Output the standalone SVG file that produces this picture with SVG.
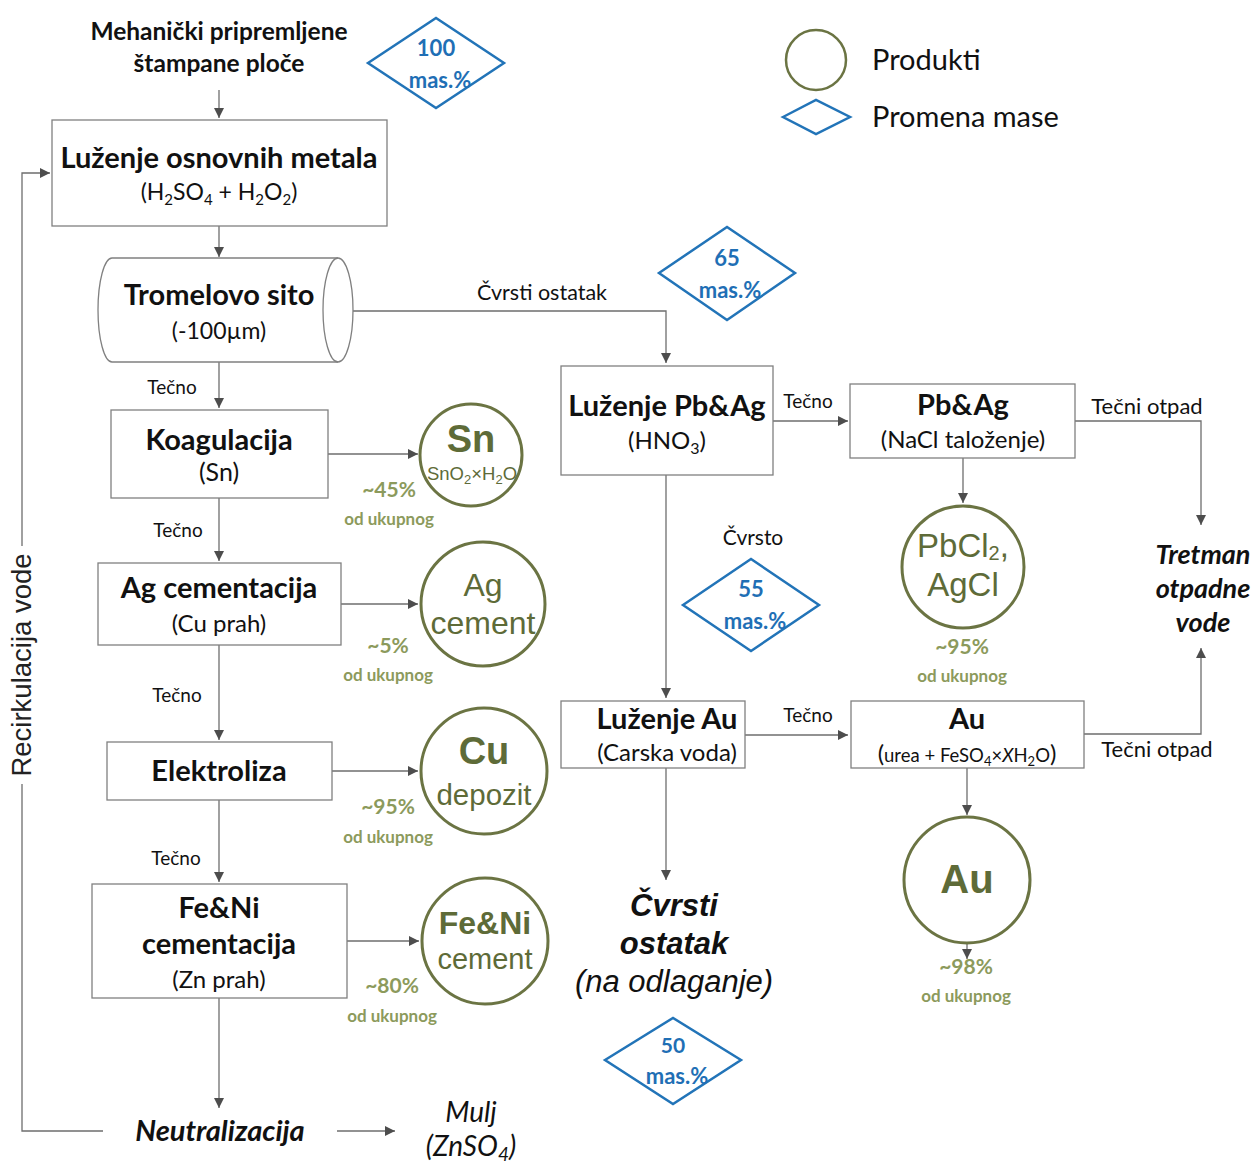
<svg xmlns="http://www.w3.org/2000/svg" width="1258" height="1163" viewBox="0 0 1258 1163">
<defs>
<marker id="ah" viewBox="0 0 10 10" refX="10" refY="5" markerWidth="10" markerHeight="10" markerUnits="userSpaceOnUse" orient="auto">
<path d="M0,0 L10,5 L0,10 Z" fill="#4d4d4d"/>
</marker>
<style>
.box{fill:#fff;stroke:#808080;stroke-width:1.3}
.ln{fill:none;stroke:#6e6e6e;stroke-width:1.3}
.arr{fill:none;stroke:#6e6e6e;stroke-width:1.3;marker-end:url(#ah)}
.prod{fill:#fff;stroke:#6b7443;stroke-width:3}
.dia{fill:#fff;stroke:#2274b8;stroke-width:2.5}
.t{font-family:Lato,"Open Sans",sans-serif;fill:#111;text-anchor:middle}
.b{font-weight:bold}
.h{font-size:29px;font-weight:bold}
.s{font-size:24px}
.lbl{font-family:Lato,"Open Sans",sans-serif;font-size:19px;fill:#111;text-anchor:middle}
.pt{font-family:"Liberation Sans",Arial,sans-serif;fill:#5e6b38;text-anchor:middle}
.pc{font-family:Lato,"Open Sans",sans-serif;font-weight:bold;fill:#8c9a5c;text-anchor:middle}
.pc1{font-size:21px}
.pc2{font-size:17px}
.dt{font-family:Lato,"Open Sans",sans-serif;font-weight:bold;fill:#1f6fb5;text-anchor:middle}
.it{font-family:"Liberation Sans",Arial,sans-serif;font-style:italic;fill:#111;text-anchor:middle;font-size:31px}
</style>
</defs>
<rect width="1258" height="1163" fill="#fff"/>

<g id="connectors">
<path class="arr" d="M219,90 V118"/>
<path class="arr" d="M219,226 V257"/>
<path class="arr" d="M353,311 H666 V363"/>
<path class="arr" d="M219,362 V408"/>
<path class="arr" d="M328,454 H418"/>
<path class="arr" d="M219,498 V561"/>
<path class="arr" d="M341,604 H418"/>
<path class="arr" d="M219,645 V740"/>
<path class="arr" d="M332,771 H418"/>
<path class="arr" d="M219,800 V882"/>
<path class="arr" d="M347,941 H419"/>
<path class="arr" d="M219,998 V1108"/>
<path class="ln" d="M103,1131 H22 V784"/>
<path class="arr" d="M22,546 V173 H50"/>
<path class="arr" d="M337,1131 H395"/>
<path class="arr" d="M773,421 H848"/>
<path class="arr" d="M1075,421 H1201 V525"/>
<path class="arr" d="M963,458 V503"/>
<path class="arr" d="M666,475 V698"/>
<path class="arr" d="M745,735 H848"/>
<path class="arr" d="M1084,734 H1201 V648"/>
<path class="arr" d="M967,768 V815"/>
<path class="arr" d="M967,943 V959"/>
<path class="arr" d="M666,768 V880"/>
</g>

<g id="edge-labels">
<text class="lbl" x="542" y="300" style="font-size:21.5px">Čvrsti ostatak</text>
<text class="lbl" x="172" y="394">Tečno</text>
<text class="lbl" x="178" y="537">Tečno</text>
<text class="lbl" x="177" y="702">Tečno</text>
<text class="lbl" x="176" y="865">Tečno</text>
<text class="lbl" x="808" y="408">Tečno</text>
<text class="lbl" x="808" y="722">Tečno</text>
<text class="lbl" x="1147" y="414" style="font-size:22px">Tečni otpad</text>
<text class="lbl" x="1157" y="757" style="font-size:22px">Tečni otpad</text>
<text class="lbl" x="753" y="545" style="font-size:21px">Čvrsto</text>
<text class="lbl" x="0" y="0" transform="translate(31,665) rotate(-90)" style="font-family:'Liberation Sans',Arial,sans-serif;font-size:27.5px;fill:#222">Recirkulacija vode</text>
</g>

<g id="input">
<text class="t b" x="219" y="40" style="font-size:24.5px">Mehanički pripremljene</text>
<text class="t b" x="219" y="72" style="font-size:24.5px">štampane ploče</text>
</g>

<g id="d100">
<polygon class="dia" points="368,63 436,18 504,63 436,108"/>
<text class="dt" x="436" y="56" style="font-size:22px">100</text>
<text class="dt" x="440" y="88" style="font-size:22px">mas.%</text>
</g>

<g id="legend">
<circle cx="816" cy="60" r="30" class="prod" style="stroke-width:2.5"/>
<text x="872" y="70" style="font-family:Lato,'Open Sans',sans-serif;font-size:29px;fill:#111">Produkti</text>
<polygon class="dia" points="783,117 816,100 850,117 816,134"/>
<text x="872" y="127" style="font-family:Lato,'Open Sans',sans-serif;font-size:29px;fill:#111">Promena mase</text>
</g>

<g id="n-luzenje-osnovnih">
<rect class="box" x="52" y="120" width="335" height="106"/>
<text class="t h" x="219" y="168">Luženje osnovnih metala</text>
<text class="t" x="219" y="200" style="font-size:23px">(H<tspan font-size="15" dy="5">2</tspan><tspan dy="-5">SO</tspan><tspan font-size="15" dy="5">4</tspan><tspan dy="-5"> + H</tspan><tspan font-size="15" dy="5">2</tspan><tspan dy="-5">O</tspan><tspan font-size="15" dy="5">2</tspan><tspan dy="-5">)</tspan></text>
</g>

<g id="n-tromel">
<path class="box" d="M112,258 H338 A15,52 0 0 1 338,362 H112 A14,52 0 0 1 112,258 Z"/>
<path class="ln" d="M338,258 A15,52 0 0 0 338,362" style="stroke:#808080"/>
<text class="t h" x="219" y="305">Tromelovo sito</text>
<text class="t" x="219" y="339" style="font-size:23px">(-100µm)</text>
</g>

<g id="d65">
<polygon class="dia" points="659,273 727,227 795,273 727,320"/>
<text class="dt" x="727" y="266" style="font-size:22px">65</text>
<text class="dt" x="730" y="298" style="font-size:22px">mas.%</text>
</g>

<g id="n-koagulacija">
<rect class="box" x="111" y="410" width="217" height="88"/>
<text class="t h" x="219" y="450">Koagulacija</text>
<text class="t" x="219" y="481" style="font-size:25px">(Sn)</text>
</g>
<g id="p-sn">
<circle class="prod" cx="471" cy="455" r="51"/>
<text class="pt b" x="471" y="452" style="font-size:38px">Sn</text>
<text class="pt" x="472" y="480" style="font-size:18.5px">SnO<tspan font-size="13" dy="4">2</tspan><tspan dy="-4">×H</tspan><tspan font-size="13" dy="4">2</tspan><tspan dy="-4">O</tspan></text>
<text class="pc pc1" x="389" y="497">~45%</text>
<text class="pc pc2" x="389" y="525">od ukupnog</text>
</g>

<g id="n-ag-cementacija">
<rect class="box" x="98" y="563" width="243" height="82"/>
<text class="t h" x="219" y="598">Ag cementacija</text>
<text class="t s" x="219" y="632">(Cu prah)</text>
</g>
<g id="p-ag">
<circle class="prod" cx="483" cy="604" r="62"/>
<text class="pt" x="483" y="596" style="font-size:32px">Ag</text>
<text class="pt" x="483" y="634" style="font-size:32px">cement</text>
<text class="pc pc1" x="388" y="653">~5%</text>
<text class="pc pc2" x="388" y="681">od ukupnog</text>
</g>

<g id="n-elektroliza">
<rect class="box" x="107" y="742" width="225" height="58"/>
<text class="t h" x="219" y="781">Elektroliza</text>
</g>
<g id="p-cu">
<circle class="prod" cx="484" cy="771" r="63"/>
<text class="pt b" x="484" y="764" style="font-size:38px">Cu</text>
<text class="pt" x="484" y="805" style="font-size:29.5px">depozit</text>
<text class="pc pc1" x="388" y="814">~95%</text>
<text class="pc pc2" x="388" y="843">od ukupnog</text>
</g>

<g id="n-feni-cementacija">
<rect class="box" x="92" y="884" width="255" height="114"/>
<text class="t h" x="219" y="918">Fe&amp;Ni</text>
<text class="t h" x="219" y="954">cementacija</text>
<text class="t s" x="219" y="988">(Zn prah)</text>
</g>
<g id="p-feni">
<circle class="prod" cx="485" cy="941" r="63"/>
<text class="pt b" x="485" y="934" style="font-size:32px">Fe&amp;Ni</text>
<text class="pt" x="485" y="969" style="font-size:29px">cement</text>
<text class="pc pc1" x="392" y="993">~80%</text>
<text class="pc pc2" x="392" y="1022">od ukupnog</text>
</g>

<g id="n-neutralizacija">
<text class="t b" x="220" y="1141" style="font-size:29px;font-style:italic">Neutralizacija</text>
</g>
<g id="n-mulj">
<text class="t" x="471" y="1122" style="font-size:28px;font-style:italic">Mulj</text>
<text class="t" x="471" y="1156" style="font-size:28px;font-style:italic">(ZnSO<tspan font-size="19" dy="5">4</tspan><tspan dy="-5">)</tspan></text>
</g>

<g id="n-luzenje-pbag">
<rect class="box" x="561" y="366" width="212" height="109"/>
<text class="t h" x="667" y="416">Luženje Pb&amp;Ag</text>
<text class="t s" x="667" y="449">(HNO<tspan font-size="16" dy="5">3</tspan><tspan dy="-5">)</tspan></text>
</g>

<g id="n-pbag-talozenje">
<rect class="box" x="850" y="384" width="225" height="74"/>
<text class="t h" x="963" y="415">Pb&amp;Ag</text>
<text class="t s" x="963" y="448">(NaCl taloženje)</text>
</g>
<g id="p-pbcl">
<circle class="prod" cx="963" cy="567" r="61"/>
<text class="pt" x="963" y="557" style="font-size:33px">PbCl<tspan font-size="20" dy="3">2</tspan><tspan dy="-3">,</tspan></text>
<text class="pt" x="963" y="596" style="font-size:33px">AgCl</text>
<text class="pc pc1" x="962" y="654">~95%</text>
<text class="pc pc2" x="962" y="682">od ukupnog</text>
</g>

<g id="n-tretman">
<text class="t b" x="1203" y="564" style="font-size:27px;font-style:italic">Tretman</text>
<text class="t b" x="1203" y="598" style="font-size:27px;font-style:italic">otpadne</text>
<text class="t b" x="1203" y="632" style="font-size:27px;font-style:italic">vode</text>
</g>

<g id="d55">
<polygon class="dia" points="683,605 751,559 819,605 751,651"/>
<text class="dt" x="751" y="597" style="font-size:22px">55</text>
<text class="dt" x="755" y="629" style="font-size:22px">mas.%</text>
</g>

<g id="n-luzenje-au">
<rect class="box" x="561" y="701" width="184" height="67"/>
<text class="t h" x="667" y="729">Luženje Au</text>
<text class="t s" x="667" y="761">(Carska voda)</text>
</g>

<g id="n-au">
<rect class="box" x="851" y="701" width="233" height="67"/>
<text class="t h" x="967" y="729">Au</text>
<text class="t" x="967" y="762" style="font-size:18.5px"><tspan font-size="24">(</tspan>urea + FeSO<tspan font-size="13" dy="4">4</tspan><tspan dy="-4">×</tspan><tspan font-style="italic">X</tspan>H<tspan font-size="13" dy="4">2</tspan><tspan dy="-4">O</tspan><tspan font-size="24">)</tspan></text>
</g>
<g id="p-au">
<circle class="prod" cx="967" cy="880" r="63"/>
<text class="pt b" x="967" y="893" style="font-size:40px">Au</text>
<text class="pc pc1" x="966" y="974">~98%</text>
<text class="pc pc2" x="966" y="1002">od ukupnog</text>
</g>

<g id="n-cvrsti-ostatak">
<text class="it b" x="674" y="916">Čvrsti</text>
<text class="it b" x="674" y="954">ostatak</text>
<text class="it" x="674" y="992">(na odlaganje)</text>
</g>

<g id="d50">
<polygon class="dia" points="605,1060 673,1018 741,1060 673,1104"/>
<text class="dt" x="673" y="1053" style="font-size:21px">50</text>
<text class="dt" x="677" y="1084" style="font-size:22px">mas.%</text>
</g>
</svg>
